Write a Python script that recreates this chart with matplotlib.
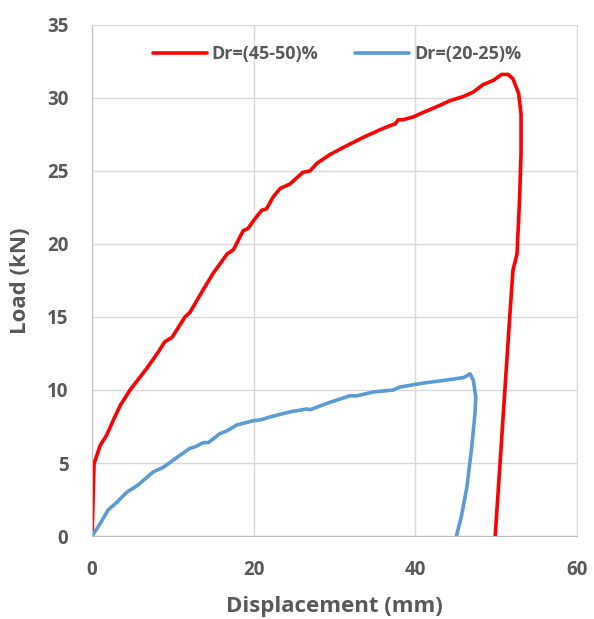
import matplotlib
matplotlib.use("Agg")
import matplotlib.pyplot as plt

# ── Data (displacement mm, load kN) ──────────────────────────────────────────
disp_dense = [0.0, 0.25, 1.0, 1.8, 2.6, 3.5, 4.7, 6.8, 8.2, 9.0, 9.9, 11.5, 12.1,
              13.8, 15.0, 15.4, 16.7, 17.5, 18.7, 19.3, 20.0, 21.0, 21.6, 22.4,
              23.3, 24.5, 26.1, 27.0, 27.8, 29.4, 31.1, 33.6, 35.6, 36.9, 37.5,
              37.9, 38.5, 39.8, 41.0, 42.7, 44.3, 46.0, 47.2, 48.4, 49.7, 50.7,
              51.5, 52.1, 52.8, 53.1, 53.1, 52.9, 52.6, 52.1, 51.7, 51.1, 50.5, 49.9]
load_dense = [0.0, 4.96, 6.2, 6.9, 7.9, 8.95, 10.0, 11.5, 12.6, 13.3, 13.6, 15.0, 15.3,
              16.9, 18.0, 18.3, 19.3, 19.6, 20.9, 21.05, 21.6, 22.3, 22.4, 23.2,
              23.8, 24.1, 24.9, 25.0, 25.5, 26.1, 26.6, 27.3, 27.8, 28.1, 28.2,
              28.5, 28.5, 28.7, 29.0, 29.4, 29.8, 30.1, 30.4, 30.9, 31.2, 31.6,
              31.6, 31.3, 30.3, 28.9, 26.2, 22.8, 19.3, 18.2, 15.0, 10.0, 4.96, 0.0]

disp_loose = [0.0, 1.0, 2.0, 3.05, 4.3, 5.7, 7.6, 8.8, 10.3, 12.1, 12.7, 13.8, 14.4,
              15.8, 16.7, 17.9, 20.0, 21.0, 22.0, 24.5, 26.6, 27.0, 29.0, 31.9,
              32.8, 34.8, 37.3, 38.1, 40.2, 41.4, 43.5, 46.0, 46.8, 47.2, 47.5,
              47.4, 47.0, 46.4, 45.7, 45.1]
load_loose = [0.0, 0.85, 1.8, 2.3, 3.0, 3.5, 4.4, 4.7, 5.3, 6.0, 6.1, 6.4, 6.4,
              7.0, 7.2, 7.6, 7.9, 7.97, 8.15, 8.5, 8.7, 8.65, 9.07, 9.6,
              9.6, 9.86, 10.0, 10.2, 10.4, 10.5, 10.65, 10.85, 11.1, 10.65, 9.5,
              8.4, 6.1, 3.36, 1.3, 0.0]

LABELS = ["Dr=(45-50)%", "Dr=(20-25)%"]
RED, BLUE = "#FF0000", "#5B9BD5"
TXT = "#595959"
GRID = "#D9D9D9"

plt.rcParams["font.family"] = ["Open Sans", "DejaVu Sans"]

fig = plt.figure(figsize=(5.94, 6.19), dpi=100)
ax = fig.add_axes([0.155, 0.134, 0.816, 0.826])

ax.plot(disp_dense, load_dense, color=RED, lw=2.6, label=LABELS[0],
        solid_joinstyle="round", solid_capstyle="round")
ax.plot(disp_loose, load_loose, color=BLUE, lw=2.6, label=LABELS[1],
        solid_joinstyle="round", solid_capstyle="round")

ax.set_xlim(0, 60)
ax.set_ylim(0, 35)
ax.set_xticks(range(0, 61, 20))
ax.set_yticks(range(0, 36, 5))
ax.grid(True, color=GRID, lw=1.0)
ax.set_axisbelow(True)
for s in ax.spines.values():
    s.set_color(GRID)
ax.spines["left"].set_color("#BFBFBF")
ax.spines["bottom"].set_color("#BFBFBF")
ax.tick_params(axis="y", length=0, pad=17, labelsize=13.5, labelcolor=TXT)
ax.tick_params(axis="x", length=0, pad=17, labelsize=13.5, labelcolor=TXT)
for lab in ax.get_xticklabels() + ax.get_yticklabels():
    lab.set_fontweight("bold")

ax.set_xlabel("Displacement (mm)", fontsize=16, fontweight="bold", color=TXT, va="center")
ax.set_ylabel("Load (kN)", fontsize=16, fontweight="bold", color=TXT, va="center")
ax.xaxis.set_label_coords(0.5, -0.137)
ax.yaxis.set_label_coords(-0.148, 0.5)

leg = ax.legend(loc="center", ncol=2, frameon=False, fontsize=13,
                handlelength=3.0, handletextpad=0.28, columnspacing=2.0,
                bbox_to_anchor=(0.505, 0.942))
for t in leg.get_texts():
    t.set_color(TXT)
    t.set_fontweight("bold")

fig.savefig("out.png", dpi=100)
